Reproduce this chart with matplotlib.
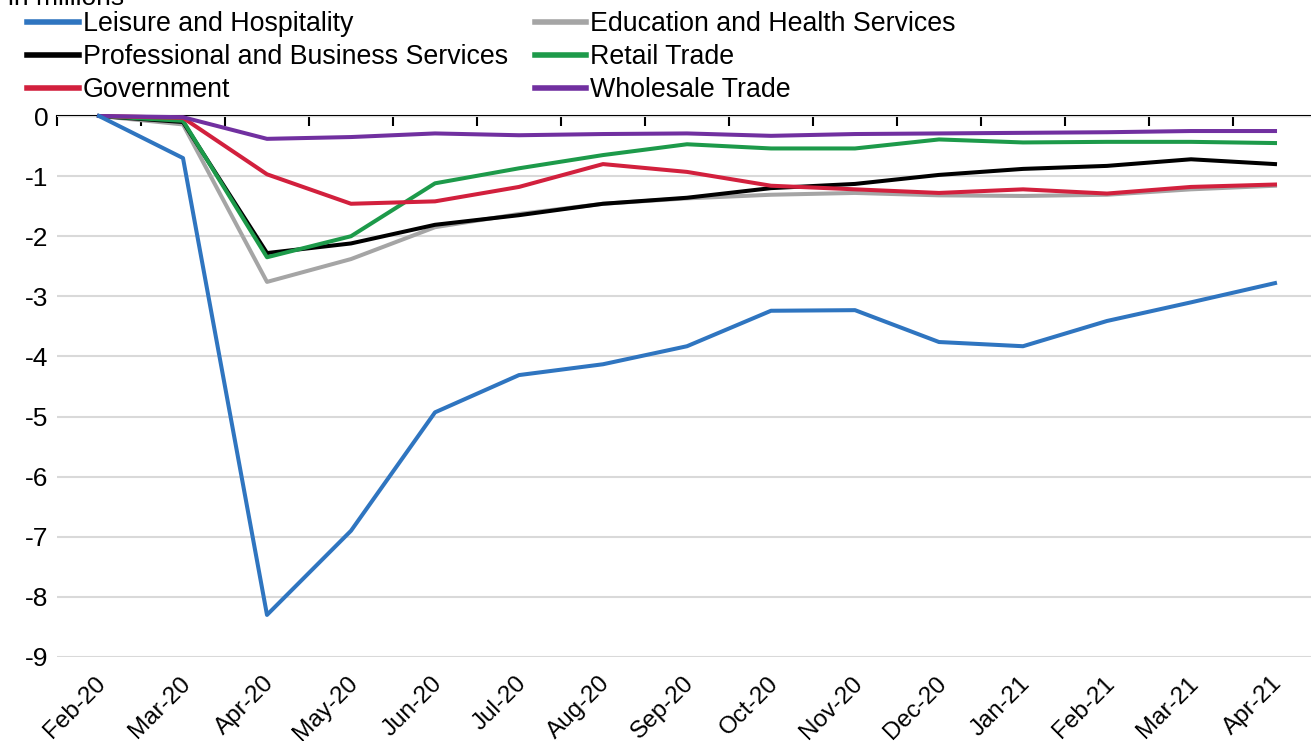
import numpy as np
import matplotlib
matplotlib.use('Agg')
import matplotlib.pyplot as plt
from matplotlib.ticker import FixedLocator
from matplotlib.transforms import ScaledTranslation

plt.rcParams['font.family'] = ['Liberation Sans', 'DejaVu Sans']
plt.rcParams['axes.unicode_minus'] = False

months = ['Feb-20', 'Mar-20', 'Apr-20', 'May-20', 'Jun-20', 'Jul-20', 'Aug-20',
          'Sep-20', 'Oct-20', 'Nov-20', 'Dec-20', 'Jan-21', 'Feb-21', 'Mar-21', 'Apr-21']

# job change vs. Feb-20, in millions
leisure = [0, -0.70, -8.30, -6.90, -4.93, -4.31, -4.13, -3.83, -3.24, -3.23,
           -3.76, -3.83, -3.41, -3.10, -2.78]
education = [0, -0.14, -2.76, -2.38, -1.85, -1.63, -1.46, -1.37, -1.31, -1.28,
             -1.32, -1.33, -1.31, -1.22, -1.16]
professional = [0, -0.10, -2.28, -2.12, -1.81, -1.65, -1.46, -1.36, -1.20, -1.13,
                -0.98, -0.88, -0.83, -0.72, -0.80]
retail = [0, -0.08, -2.35, -2.00, -1.12, -0.87, -0.65, -0.47, -0.54, -0.54,
          -0.39, -0.44, -0.43, -0.43, -0.45]
government = [0, -0.03, -0.97, -1.46, -1.42, -1.18, -0.80, -0.93, -1.16, -1.22,
              -1.28, -1.22, -1.29, -1.18, -1.14]
wholesale = [0, -0.02, -0.38, -0.35, -0.29, -0.32, -0.30, -0.29, -0.33, -0.30,
             -0.29, -0.28, -0.27, -0.25, -0.25]

series = [
    ('Leisure and Hospitality', leisure, '#2F75C0', 6),
    ('Education and Health Services', education, '#A5A5A5', 1),
    ('Professional and Business Services', professional, '#000000', 2),
    ('Retail Trade', retail, '#1D9A4A', 3),
    ('Government', government, '#D2203D', 4),
    ('Wholesale Trade', wholesale, '#7130A0', 5),
]

fig = plt.figure(figsize=(13.11, 7.41), dpi=100)
ax = fig.add_axes([57 / 1311, 1 - 657 / 741, 1260 / 1311, (657 - 116) / 741])

x = np.arange(len(months))
handles = []
for name, vals, color, z in series:
    ln, = ax.plot(x, vals, color=color, linewidth=2.9, zorder=z, label=name,
                  clip_on=False)
    handles.append(ln)

ax.set_xlim(-0.5, len(months) - 0.5)
ax.set_ylim(-9, 0)
ax.set_yticks(range(-9, 1))
ax.grid(axis='y', color='#D9D9D9', linewidth=1.5)
ax.set_axisbelow(True)

# category axis drawn along y=0, labels kept at the bottom
for s in ['left', 'right', 'bottom']:
    ax.spines[s].set_visible(False)
ax.spines['top'].set_position(('data', 0))
ax.spines['top'].set_linewidth(1.5)
ax.spines['top'].set_zorder(0.5)
ax.xaxis.set_major_locator(FixedLocator(x))
ax.xaxis.set_minor_locator(FixedLocator(np.arange(len(months) + 1) - 0.5))
ax.set_xticklabels(months, rotation=45, ha='right', va='top',
                   rotation_mode='anchor')
ax.tick_params(axis='x', which='major', length=0, pad=11, labelsize=17.5,
               top=False, bottom=True)
ax.tick_params(axis='x', which='minor', top=True, bottom=False,
               direction='in', length=7, width=1.5)
ax.tick_params(axis='y', length=0, pad=6, labelsize=19)
shift = ScaledTranslation(-4 / 100, 0, fig.dpi_scale_trans)
for lbl in ax.get_xticklabels():
    lbl.set_transform(lbl.get_transform() + shift)

fig.text(8 / 1311, 1 - 5 / 741, 'in millions', fontsize=19, va='baseline')

order = [0, 2, 4, 1, 3, 5]
leg = fig.legend([handles[i] for i in order], [series[i][0] for i in order],
                 ncol=2, loc='upper left', bbox_to_anchor=(27 / 1311, 1 - 11 / 741),
                 frameon=False, fontsize=19.3, borderpad=0, borderaxespad=0,
                 handlelength=1.93, handletextpad=0.15, labelspacing=0.27,
                 columnspacing=1.0)
for l in leg.get_lines():
    l.set_linewidth(4)

fig.savefig('out.png', dpi=100)
